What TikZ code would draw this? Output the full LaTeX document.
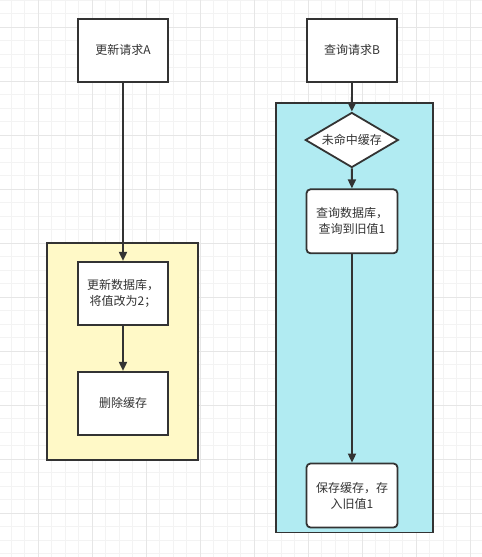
\documentclass[tikz,border=0pt]{standalone}
\usepackage{fontspec}
\newfontfamily\cjk{Noto Sans CJK SC}
\usetikzlibrary{arrows.meta}
\usetikzlibrary{shapes.geometric}
\definecolor{inkgray}{HTML}{333333}
\definecolor{gridminor}{HTML}{F3F3F3}
\definecolor{gridmajor}{HTML}{E6E6E6}
\definecolor{laneyellow}{HTML}{FFF9C7}
\definecolor{laneblue}{HTML}{B1EBF2}
\tikzset{
  stepbox/.style={draw=inkgray, line width=1.8pt, fill=white, text=inkgray,
    minimum width=90pt, minimum height=63pt, inner sep=0pt, align=center,
    font=\cjk\fontsize{12}{16}\selectfont},
  roundbox/.style={stepbox, rounded corners=4pt, minimum width=91pt, minimum height=64pt},
  checkbox/.style={stepbox, diamond, aspect=1.7, minimum width=93pt, minimum height=55pt},
  lane/.style={draw=inkgray, line width=1.8pt, inner sep=0pt},
  flow/.style={draw=inkgray, line width=1.8pt, -{Triangle[length=9pt,width=8pt]}}
}
\begin{document}
\begin{tikzpicture}[x=1pt,y=-1pt]
    \useasboundingbox (0,0) rectangle (482,557);
    \fill[white] (0,0) rectangle (482,557);
    \foreach \gx in {0,...,35}
      \draw[gridminor, line width=0.8pt] (11.3+13.5*\gx,0) -- (11.3+13.5*\gx,557);
    \foreach \gy in {0,...,41}
      \draw[gridminor, line width=0.8pt] (0,13.5*\gy) -- (482,13.5*\gy);
    \foreach \gx in {0,...,8}
      \draw[gridmajor, line width=0.8pt] (38.3+54*\gx,0) -- (38.3+54*\gx,557);
    \foreach \gy in {0,...,10}
      \draw[gridmajor, line width=0.8pt] (0,27+54*\gy) -- (482,27+54*\gy);

    \node[lane, fill=laneyellow, minimum width=151pt, minimum height=217pt] (laneA) at (122.5,351.5) {};
    \node[lane, fill=laneblue, minimum width=157pt, minimum height=429.5pt] (laneB) at (354.5,317.8) {};

    \node[stepbox] (reqA) at (123,50.3) {更新请求A};
    \node[stepbox] (updDB) at (123,293.3) {更新数据库，\\将值改为2；};
    \node[stepbox] (delCache) at (123,403.3) {删除缓存};

    \node[stepbox] (reqB) at (352,50.3) {查询请求B};
    \node[checkbox] (miss) at (351.8,140) {未命中缓存};
    \node[roundbox] (qryDB) at (352,221.3) {查询数据库，\\查询到旧值1};
    \node[roundbox] (saveCache) at (352,495.5) {保存缓存，存\\入旧值1};

    \draw[flow] (reqA) -- (updDB);
    \draw[flow] (updDB) -- (delCache);
    \draw[flow] (reqB) -- (miss);
    \draw[flow] (miss) -- (qryDB);
    \draw[flow] (qryDB) -- (saveCache);
\end{tikzpicture}
\end{document}
